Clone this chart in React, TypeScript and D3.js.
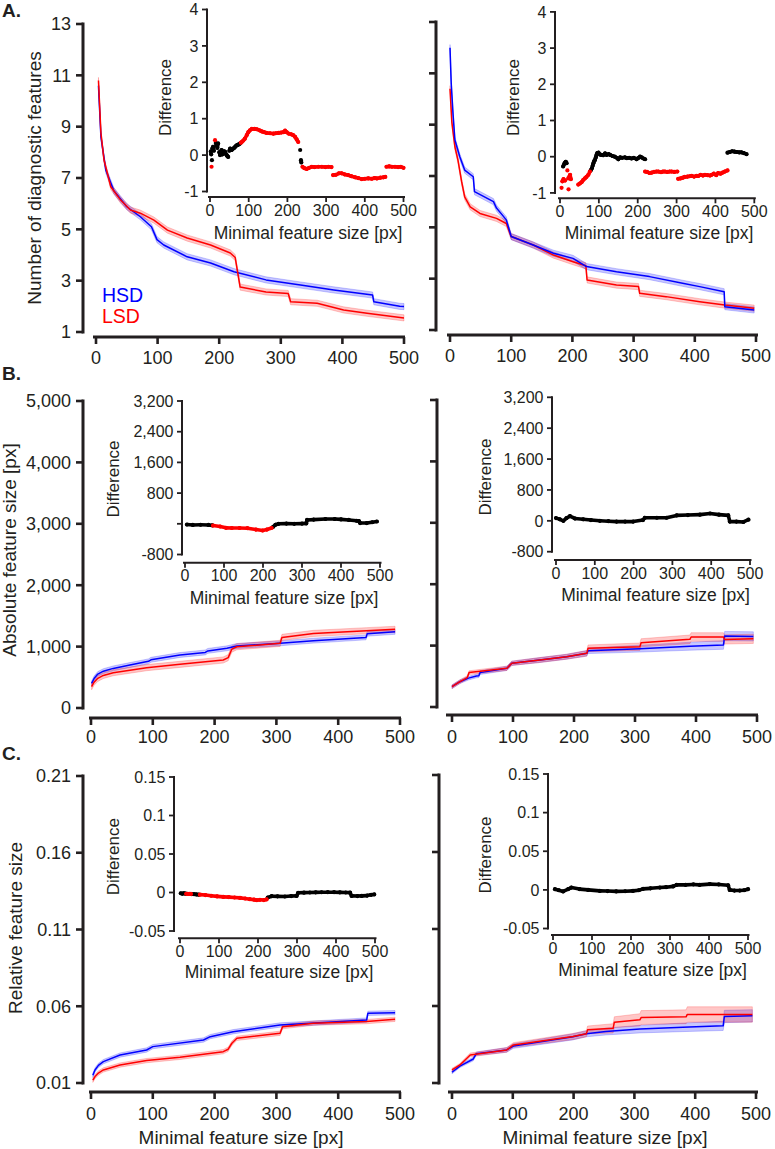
import React from 'react';
import * as d3 from 'd3';

const FONT = '"Liberation Sans", Arial, Helvetica, sans-serif';
const INK = '#231f20';
const BLUE = '#0000ff';
const RED = '#ff0000';

// ---------- shared ticks ----------
const X_TICKS = [0, 100, 200, 300, 400, 500];
const A_Y_TICKS = [1, 3, 5, 7, 9, 11, 13];
const B_Y_TICKS = [0, 1000, 2000, 3000, 4000, 5000];
const C_Y_TICKS = [0.01, 0.06, 0.11, 0.16, 0.21];
const A_INSET_Y_TICKS = [-1, 0, 1, 2, 3, 4];
const B_INSET_Y_TICKS = [-800, 0, 800, 1600, 2400, 3200];
const B_INSET_Y_LABELS_LEFT = ['-800', '', '800', '1,600', '2,400', '3,200'];
const B_INSET_Y_LABELS_RIGHT = ['-800', '0', '800', '1,600', '2,400', '3,200'];
const C_INSET_Y_TICKS = [-0.05, 0, 0.05, 0.1, 0.15];
const C_INSET_Y_LABELS = ['-0.05', '0', '0.05', '0.1', '0.15'];

// ---------- Panel A: number of diagnostic features ----------
const A_L_HSD_X = [4, 8, 16, 29, 50, 72, 90, 99, 110, 148, 186, 224, 276, 332, 386, 449, 451, 493, 500];
const A_L_HSD_Y = [10.6, 8.6, 7.3, 6.5, 5.88, 5.49, 5.1, 4.6, 4.39, 3.93, 3.69, 3.35, 3.03, 2.83, 2.64, 2.44, 2.18, 2.0, 1.99];
const A_L_LSD_X = [4, 8, 13, 24, 40, 56, 72, 94, 116, 148, 186, 218, 226, 234, 276, 312, 316, 359, 402, 440, 500];
const A_L_LSD_Y = [10.8, 8.75, 7.7, 6.66, 6.14, 5.75, 5.63, 5.36, 4.97, 4.66, 4.39, 4.08, 3.9, 2.75, 2.56, 2.5, 2.18, 2.12, 1.86, 1.73, 1.55];
const A_SE = 0.12;

const A_R_HSD_X = [0, 2, 5, 8, 16, 24, 38, 40, 71, 76, 92, 100, 136, 169, 201, 223, 272, 326, 380, 408, 448, 449, 497];
const A_R_HSD_Y = [12.0, 10.6, 9.4, 8.4, 7.75, 7.23, 6.97, 6.39, 6.0, 5.75, 5.29, 4.64, 4.31, 3.99, 3.79, 3.47, 3.27, 3.08, 2.82, 2.69, 2.49, 1.91, 1.78];
const A_R_LSD_X = [0, 3, 8, 13, 19, 24, 33, 49, 76, 92, 100, 136, 169, 201, 222, 224, 272, 308, 310, 353, 408, 449, 497];
const A_R_LSD_Y = [10.4, 9.1, 8.14, 7.62, 6.78, 6.19, 5.8, 5.54, 5.35, 5.15, 4.64, 4.31, 3.92, 3.66, 3.5, 2.95, 2.75, 2.69, 2.43, 2.3, 2.1, 1.97, 1.85];

// Panel A insets: difference (dots), black = n.s., red = significant
const A_L_DIFF_BLACK_X = [2, 3, 5, 6, 8, 10, 15, 17, 19, 21, 24, 26, 28, 30, 32, 34, 37, 39, 41, 43, 45, 47, 50, 52, 54, 56, 58, 60, 63, 65, 67, 69, 72, 75, 78, 233, 235, 236];
const A_L_DIFF_BLACK_Y = [0.10, 0.02, -0.14, 0.18, 0.23, 0.12, 0.33, 0.27, 0.20, 0.32, 0.08, 0.00, 0.10, 0.14, 0.02, 0.05, 0.10, 0.09, 0.03, 0.00, -0.03, -0.05, 0.12, 0.18, 0.15, 0.14, 0.17, 0.18, 0.20, 0.23, 0.25, 0.27, 0.28, 0.30, 0.32, 0.14, -0.14, -0.20];
const A_L_DIFF_RED_X = [4, 13, 80, 82, 86, 90, 95, 99, 103, 108, 115, 121, 128, 134, 140, 146, 155, 164, 170, 177, 184, 190, 194, 198, 203, 210, 215, 220, 224, 228, 239, 244, 250, 256, 263, 270, 280, 289, 298, 306, 314, 318, 325, 333, 340, 348, 357, 365, 375, 383, 392, 400, 409, 418, 425, 431, 440, 448, 453, 456, 463, 470, 478, 486, 493, 500];
const A_L_DIFF_RED_Y = [-0.32, 0.41, 0.34, 0.36, 0.40, 0.45, 0.55, 0.63, 0.68, 0.72, 0.72, 0.71, 0.68, 0.65, 0.63, 0.61, 0.60, 0.59, 0.60, 0.61, 0.62, 0.63, 0.67, 0.63, 0.59, 0.57, 0.55, 0.50, 0.43, 0.36, -0.32, -0.36, -0.38, -0.35, -0.32, -0.33, -0.32, -0.32, -0.33, -0.32, -0.33, -0.55, -0.54, -0.50, -0.50, -0.53, -0.55, -0.58, -0.61, -0.63, -0.66, -0.65, -0.64, -0.65, -0.63, -0.64, -0.62, -0.61, -0.60, -0.32, -0.31, -0.32, -0.32, -0.33, -0.32, -0.35];

const A_R_DIFF_BLACK_X = [8, 11, 13, 15, 17, 79, 82, 84, 86, 88, 90, 92, 94, 96, 99, 103, 107, 111, 116, 120, 125, 129, 135, 141, 146, 150, 155, 160, 167, 172, 178, 184, 190, 197, 201, 206, 210, 215, 219, 431, 437, 443, 449, 455, 461, 467, 473, 480];
const A_R_DIFF_BLACK_Y = [-0.27, -0.20, -0.16, -0.14, -0.18, -0.38, -0.32, -0.25, -0.18, -0.12, -0.09, -0.02, 0.05, 0.10, 0.11, 0.06, 0.05, 0.04, 0.09, 0.05, 0.07, 0.05, 0.02, 0.00, -0.03, -0.07, -0.02, -0.03, -0.02, -0.04, -0.03, -0.05, -0.03, -0.07, -0.04, 0.00, -0.02, -0.05, -0.07, 0.11, 0.13, 0.15, 0.14, 0.13, 0.12, 0.12, 0.10, 0.07];
const A_R_DIFF_RED_X = [4, 6, 9, 13, 19, 21, 22, 24, 26, 28, 47, 51, 56, 60, 64, 68, 73, 77, 219, 224, 230, 236, 242, 248, 253, 260, 265, 270, 276, 282, 287, 294, 302, 304, 310, 316, 321, 328, 334, 339, 345, 351, 356, 362, 368, 373, 380, 386, 390, 396, 402, 407, 413, 418, 424, 431];
const A_R_DIFF_RED_Y = [-0.86, -0.68, -0.62, -0.66, -0.38, -0.60, -0.90, -0.55, -0.50, -0.62, -0.77, -0.74, -0.70, -0.64, -0.60, -0.56, -0.50, -0.41, -0.41, -0.42, -0.45, -0.44, -0.42, -0.41, -0.41, -0.43, -0.41, -0.41, -0.42, -0.41, -0.41, -0.42, -0.41, -0.61, -0.60, -0.58, -0.56, -0.55, -0.54, -0.53, -0.55, -0.53, -0.53, -0.50, -0.52, -0.50, -0.51, -0.52, -0.50, -0.47, -0.51, -0.45, -0.47, -0.44, -0.41, -0.38];

// ---------- Panel B: absolute feature size ----------
const B_L_HSD_X = [1, 5, 11, 20, 36, 63, 93, 97, 144, 185, 189, 220, 236, 306, 360, 445, 447, 492];
const B_L_HSD_Y = [400, 480, 553, 600, 645, 700, 760, 785, 863, 905, 930, 972, 1010, 1053, 1097, 1150, 1210, 1240];
const B_L_LSD_X = [1, 5, 11, 20, 36, 90, 144, 214, 222, 228, 236, 306, 309, 360, 446, 492];
const B_L_LSD_Y = [347, 420, 483, 530, 575, 657, 711, 782, 820, 960, 998, 1053, 1150, 1215, 1259, 1281];
const B_L_HSD_SE = 40;
const B_L_LSD_SE = 50;

const B_R_HSD_X = [0, 13, 27, 40, 44, 46, 90, 98, 144, 188, 221, 223, 308, 390, 445, 447, 494];
const B_R_HSD_Y = [330, 412, 470, 505, 510, 560, 630, 712, 765, 819, 874, 915, 950, 990, 1010, 1156, 1150];
const B_R_HSD_SE = [30, 30, 30, 30, 30, 30, 35, 35, 40, 40, 45, 45, 55, 65, 70, 75, 75];
const B_R_LSD_X = [0, 13, 25, 28, 90, 98, 144, 188, 221, 223, 308, 310, 390, 392, 445, 447, 494];
const B_R_LSD_Y = [330, 412, 480, 560, 630, 712, 765, 819, 874, 956, 982, 1047, 1102, 1140, 1140, 1100, 1110];
const B_R_LSD_SE = [30, 30, 30, 30, 35, 35, 40, 40, 45, 55, 60, 65, 70, 70, 70, 75, 75];

const B_L_DIFF_BLACK_X = [5, 20, 40, 60, 70, 226, 232, 240, 260, 280, 300, 311, 313, 330, 360, 384, 400, 420, 440, 446, 449, 466, 480, 492];
const B_L_DIFF_BLACK_Y = [-20, -30, -25, -30, -40, -80, -25, 0, 5, 0, 5, 10, 100, 110, 125, 125, 115, 100, 80, 70, 20, 20, 40, 60];
const B_L_DIFF_RED_X = [72, 90, 105, 120, 140, 160, 182, 199, 210, 222];
const B_L_DIFF_RED_Y = [-45, -70, -105, -110, -110, -115, -150, -175, -150, -110];

const B_R_DIFF_BLACK_X = [0, 10, 19, 27, 36, 49, 70, 90, 113, 135, 156, 178, 199, 224, 229, 260, 285, 311, 340, 371, 397, 420, 444, 448, 465, 483, 496];
const B_R_DIFF_BLACK_Y = [70, 40, 0, 70, 120, 60, 40, 20, 0, -10, -20, -20, -20, 20, 80, 80, 80, 140, 150, 160, 190, 160, 140, -20, -20, -30, 30];

// ---------- Panel C: relative feature size ----------
const C_L_HSD_X = [3, 6.5, 12, 20, 47, 90, 100, 182, 193, 230, 306, 446, 448, 492];
const C_L_HSD_Y = [0.015, 0.0185, 0.0215, 0.0239, 0.0282, 0.0315, 0.0337, 0.038, 0.0402, 0.0434, 0.0478, 0.051, 0.0554, 0.0558];
const C_L_LSD_X = [3, 6.5, 12, 20, 47, 90, 144, 214, 222, 228, 236, 306, 310, 360, 446, 492];
const C_L_LSD_Y = [0.0118, 0.0142, 0.0165, 0.0185, 0.0217, 0.0246, 0.0267, 0.0304, 0.032, 0.0359, 0.0391, 0.0424, 0.0467, 0.049, 0.05, 0.0515];
const C_L_SE = 0.0014;

const C_R_HSD_X = [0, 13, 35, 40, 90, 101, 199, 221, 253, 309, 390, 446, 448, 494];
const C_R_HSD_Y = [0.017, 0.021, 0.0256, 0.029, 0.0315, 0.034, 0.040, 0.042, 0.0434, 0.045, 0.0463, 0.0471, 0.0532, 0.0536];
const C_R_HSD_SE = [0.001, 0.001, 0.0012, 0.0012, 0.0015, 0.0015, 0.002, 0.002, 0.0022, 0.0025, 0.0028, 0.003, 0.004, 0.004];
const C_R_LSD_X = [0, 13, 30, 90, 101, 199, 221, 223, 265, 267, 309, 311, 385, 387, 494];
const C_R_LSD_Y = [0.0185, 0.0217, 0.0282, 0.0315, 0.0347, 0.0402, 0.042, 0.0445, 0.0455, 0.0495, 0.051, 0.0525, 0.053, 0.0545, 0.0545];
const C_R_LSD_SE = [0.001, 0.001, 0.0012, 0.0015, 0.0015, 0.002, 0.002, 0.0025, 0.003, 0.0035, 0.004, 0.0045, 0.0045, 0.005, 0.005];

const C_L_DIFF_BLACK_X = [2, 6, 10, 14, 30, 36, 42, 48, 225, 235, 250, 269, 285, 299, 303, 318, 333, 348, 363, 379, 395, 410, 425, 436, 440, 455, 466, 480, 490, 498];
const C_L_DIFF_BLACK_Y = [-0.001, -0.0015, -0.001, -0.0015, -0.002, -0.0022, -0.0025, -0.0028, -0.0065, -0.0048, -0.005, -0.0052, -0.0046, -0.0044, -0.0004, -0.0002, 0, 0.0002, 0.0003, 0.0004, 0.0004, 0.0002, 0, -0.0002, -0.0044, -0.0046, -0.0044, -0.004, -0.003, -0.0025];
const C_L_DIFF_RED_X = [16, 20, 24, 28, 51, 65, 80, 95, 111, 125, 140, 154, 167, 179, 190, 197, 205, 215, 222];
const C_L_DIFF_RED_Y = [-0.0016, -0.0018, -0.0017, -0.0019, -0.0028, -0.0033, -0.0042, -0.005, -0.0057, -0.006, -0.0065, -0.007, -0.0078, -0.0087, -0.0093, -0.01, -0.0095, -0.0098, -0.009];

const C_R_DIFF_BLACK_X = [5, 15, 26, 39, 47, 68, 90, 120, 140, 162, 185, 205, 220, 231, 250, 274, 290, 308, 317, 340, 360, 376, 402, 425, 449, 453, 465, 479, 490, 500];
const C_R_DIFF_BLACK_Y = [0.0009, -0.0005, -0.002, 0.001, 0.003, 0.001, 0, -0.0013, -0.0015, -0.002, -0.0018, -0.0013, -0.0005, 0.0013, 0.002, 0.003, 0.0035, 0.0045, 0.0065, 0.0065, 0.007, 0.0065, 0.0075, 0.007, 0.006, 0, -0.0009, -0.0009, -0.0005, 0.0009];

// ---------- helpers ----------
type Series = { x: number[]; y: number[]; se: number | number[]; color: string };

const zip = (xs: number[], ys: number[]) => xs.map((x, i) => ({ x, y: ys[i], i }));

function MainPanel(props: {
  xRange: [number, number];
  yDomain: [number, number];
  yRange: [number, number];
  yTicks: number[];
  yLabels?: string[] | null;
  yAxisX: number;
  xAxisY: number;
  xLine: [number, number];
  series: Series[];
  xLabelOffset?: number;
}) {
  const { xRange, yDomain, yRange, yTicks, yLabels, yAxisX, xAxisY, xLine, series } = props;
  const xs = d3.scaleLinear().domain([0, 500]).range(xRange);
  const ys = d3.scaleLinear().domain(yDomain).range(yRange);
  const line = d3.line<{ x: number; y: number }>().x((d) => xs(d.x)).y((d) => ys(d.y));
  const seAt = (s: Series, i: number) => (Array.isArray(s.se) ? s.se[i] : s.se);
  const xOff = props.xLabelOffset ?? 26;
  return (
    <g>
      {series.map((s, k) => {
        const pts = zip(s.x, s.y);
        const area = d3
          .area<{ x: number; y: number; i: number }>()
          .x((d) => xs(d.x))
          .y0((d) => ys(d.y - seAt(s, d.i)))
          .y1((d) => ys(d.y + seAt(s, d.i)));
        return (
          <path key={'b' + k} d={area(pts) || ''} fill={s.color} fillOpacity={0.22} stroke={s.color} strokeOpacity={0.25} strokeWidth={0.8} />
        );
      })}
      {series.map((s, k) => (
        <path key={'l' + k} d={line(zip(s.x, s.y)) || ''} fill="none" stroke={s.color} strokeWidth={1.5} strokeLinejoin="round" />
      ))}
      {/* y axis */}
      <line x1={yAxisX} x2={yAxisX} y1={ys(yDomain[0]) + 1.5} y2={ys(yDomain[1]) - 1.5} stroke={INK} strokeWidth={3} />
      {yTicks.map((t, i) => (
        <g key={'yt' + i}>
          <line x1={yAxisX - 7} x2={yAxisX} y1={ys(t)} y2={ys(t)} stroke={INK} strokeWidth={2.6} />
          {yLabels ? (
            <text x={yAxisX - 12} y={ys(t)} dy="0.36em" textAnchor="end" fontSize={18} fill={INK} fontFamily={FONT}>
              {yLabels[i]}
            </text>
          ) : null}
        </g>
      ))}
      {/* x axis */}
      <line x1={xLine[0]} x2={xLine[1]} y1={xAxisY} y2={xAxisY} stroke={INK} strokeWidth={3} />
      {X_TICKS.map((t, i) => (
        <g key={'xt' + i}>
          <line x1={xs(t)} x2={xs(t)} y1={xAxisY} y2={xAxisY + 7} stroke={INK} strokeWidth={2.6} />
          <text x={xs(t)} y={xAxisY + xOff} textAnchor="middle" fontSize={18} fill={INK} fontFamily={FONT}>
            {String(t)}
          </text>
        </g>
      ))}
    </g>
  );
}

function Inset(props: {
  xRange: [number, number];
  yDomain: [number, number];
  yRange: [number, number];
  yTicks: number[];
  yLabels: string[];
  axisX: number;
  axisY: number;
  black: { x: number[]; y: number[] };
  red?: { x: number[]; y: number[] };
  joinDx: number;
  joinDy: number;
  xLabel: [number, number];
  yLabel: [number, number];
}) {
  const { xRange, yDomain, yRange, yTicks, yLabels, axisX, axisY, black, red, joinDx, joinDy } = props;
  const xs = d3.scaleLinear().domain([0, 500]).range(xRange);
  const ys = d3.scaleLinear().domain(yDomain).range(yRange);
  const drawGroup = (g: { x: number[]; y: number[] }, color: string, key: string) => {
    const pts = zip(g.x, g.y);
    const segs: JSX.Element[] = [];
    for (let i = 1; i < pts.length; i++) {
      const a = pts[i - 1];
      const b = pts[i];
      if (Math.abs(b.x - a.x) <= joinDx && Math.abs(ys(b.y) - ys(a.y)) <= joinDy) {
        segs.push(
          <line key={key + 's' + i} x1={xs(a.x)} y1={ys(a.y)} x2={xs(b.x)} y2={ys(b.y)} stroke={color} strokeWidth={3.6} strokeLinecap="round" />
        );
      }
    }
    return (
      <g key={key}>
        {segs}
        {pts.map((p, i) => (
          <circle key={key + 'c' + i} cx={xs(p.x)} cy={ys(p.y)} r={2.1} fill={color} />
        ))}
      </g>
    );
  };
  return (
    <g>
      {drawGroup(black, '#000000', 'k')}
      {red ? drawGroup(red, RED, 'r') : null}
      <line x1={axisX} x2={axisX} y1={ys(yDomain[0]) + 1} y2={ys(yDomain[1]) - 1} stroke={INK} strokeWidth={2} />
      {yTicks.map((t, i) => (
        <g key={'yt' + i}>
          <line x1={axisX - 5} x2={axisX} y1={ys(t)} y2={ys(t)} stroke={INK} strokeWidth={1.8} />
          <text x={axisX - 8.5} y={ys(t)} dy="0.36em" textAnchor="end" fontSize={16} fill={INK} fontFamily={FONT}>
            {yLabels[i]}
          </text>
        </g>
      ))}
      <line x1={xs(0) - 2} x2={xs(500) + 1.5} y1={axisY} y2={axisY} stroke={INK} strokeWidth={2} />
      {X_TICKS.map((t, i) => (
        <g key={'xt' + i}>
          <line x1={xs(t)} x2={xs(t)} y1={axisY} y2={axisY + 5} stroke={INK} strokeWidth={1.8} />
          <text x={xs(t)} y={axisY + 18.5} textAnchor="middle" fontSize={16} fill={INK} fontFamily={FONT}>
            {String(t)}
          </text>
        </g>
      ))}
      <text x={props.xLabel[0]} y={props.xLabel[1]} textAnchor="middle" fontSize={17.5} fill={INK} fontFamily={FONT}>
        Minimal feature size [px]
      </text>
      <text
        transform={`translate(${props.yLabel[0]},${props.yLabel[1]}) rotate(-90)`}
        textAnchor="middle"
        fontSize={17}
        fill={INK}
        fontFamily={FONT}
      >
        Difference
      </text>
    </g>
  );
}

const fmtComma = d3.format(',');

export default function App() {
  const aLabels = A_Y_TICKS.map(String);
  const bLabels = B_Y_TICKS.map((v) => fmtComma(v));
  const cLabels = C_Y_TICKS.map((v) => String(v));
  const aInsetLabels = A_INSET_Y_TICKS.map(String);
  return (
    <svg width={775} height={1149} style={{ position: 'absolute', left: 0, top: 0, background: '#fff' }} fontFamily={FONT}>
      <rect x={0} y={0} width={775} height={1149} fill="#ffffff" />

      {/* panel letters */}
      <text x={2} y={17} fontSize={19} fontWeight="bold" fill={INK}>A.</text>
      <text x={2} y={380} fontSize={19} fontWeight="bold" fill={INK}>B.</text>
      <text x={2} y={760} fontSize={19} fontWeight="bold" fill={INK}>C.</text>

      {/* ---------- A ---------- */}
      <MainPanel
        xRange={[96, 404]}
        yDomain={[1, 13]}
        yRange={[332, 24]}
        yTicks={A_Y_TICKS}
        yLabels={aLabels}
        yAxisX={83}
        xAxisY={337}
        xLine={[93, 405]}
        xLabelOffset={27}
        series={[
          { x: A_L_HSD_X, y: A_L_HSD_Y, se: A_SE, color: BLUE },
          { x: A_L_LSD_X, y: A_L_LSD_Y, se: A_SE, color: RED },
        ]}
      />
      <MainPanel
        xRange={[450, 756]}
        yDomain={[1, 13]}
        yRange={[330, 22]}
        yTicks={A_Y_TICKS}
        yLabels={null}
        yAxisX={436}
        xAxisY={335}
        xLine={[447, 758]}
        xLabelOffset={27}
        series={[
          { x: A_R_LSD_X, y: A_R_LSD_Y, se: A_SE, color: RED },
          { x: A_R_HSD_X, y: A_R_HSD_Y, se: A_SE, color: BLUE },
        ]}
      />
      <text transform="translate(41,178) rotate(-90)" textAnchor="middle" fontSize={19} fill={INK}>
        Number of diagnostic features
      </text>
      <text x={102} y={302} fontSize={19.5} fill={BLUE}>HSD</text>
      <text x={102} y={323} fontSize={19.5} fill={RED}>LSD</text>

      <Inset
        xRange={[210, 403.5]}
        yDomain={[-1, 4]}
        yRange={[191.5, 9.5]}
        yTicks={A_INSET_Y_TICKS}
        yLabels={aInsetLabels}
        axisX={207}
        axisY={197}
        black={{ x: A_L_DIFF_BLACK_X, y: A_L_DIFF_BLACK_Y }}
        red={{ x: A_L_DIFF_RED_X, y: A_L_DIFF_RED_Y }}
        joinDx={12}
        joinDy={5.5}
        xLabel={[308, 239]}
        yLabel={[171, 97.5]}
      />
      <Inset
        xRange={[560, 754.3]}
        yDomain={[-1, 4]}
        yRange={[192.9, 11.9]}
        yTicks={A_INSET_Y_TICKS}
        yLabels={aInsetLabels}
        axisX={555}
        axisY={198.3}
        black={{ x: A_R_DIFF_BLACK_X, y: A_R_DIFF_BLACK_Y }}
        red={{ x: A_R_DIFF_RED_X, y: A_R_DIFF_RED_Y }}
        joinDx={12}
        joinDy={5.5}
        xLabel={[659, 239]}
        yLabel={[519, 97.5]}
      />

      {/* ---------- B ---------- */}
      <MainPanel
        xRange={[91, 400]}
        yDomain={[0, 5000]}
        yRange={[708, 401]}
        yTicks={B_Y_TICKS}
        yLabels={bLabels}
        yAxisX={83}
        xAxisY={718}
        xLine={[89, 401]}
        xLabelOffset={25}
        series={[
          { x: B_L_HSD_X, y: B_L_HSD_Y, se: B_L_HSD_SE, color: BLUE },
          { x: B_L_LSD_X, y: B_L_LSD_Y, se: B_L_LSD_SE, color: RED },
        ]}
      />
      <MainPanel
        xRange={[452, 757]}
        yDomain={[0, 5000]}
        yRange={[707, 400]}
        yTicks={B_Y_TICKS}
        yLabels={null}
        yAxisX={437}
        xAxisY={715}
        xLine={[446, 758]}
        xLabelOffset={28}
        series={[
          { x: B_R_HSD_X, y: B_R_HSD_Y, se: B_R_HSD_SE, color: BLUE },
          { x: B_R_LSD_X, y: B_R_LSD_Y, se: B_R_LSD_SE, color: RED },
        ]}
      />
      <text transform="translate(16,550) rotate(-90)" textAnchor="middle" fontSize={19} fill={INK}>
        Absolute feature size [px]
      </text>
      <Inset
        xRange={[185, 380]}
        yDomain={[-800, 3200]}
        yRange={[554.5, 401]}
        yTicks={B_INSET_Y_TICKS}
        yLabels={B_INSET_Y_LABELS_LEFT}
        axisX={182}
        axisY={562.7}
        black={{ x: B_L_DIFF_BLACK_X, y: B_L_DIFF_BLACK_Y }}
        red={{ x: B_L_DIFF_RED_X, y: B_L_DIFF_RED_Y }}
        joinDx={40}
        joinDy={8}
        xLabel={[284, 604]}
        yLabel={[119, 479]}
      />
      <Inset
        xRange={[556, 750]}
        yDomain={[-800, 3200]}
        yRange={[551.7, 397.3]}
        yTicks={B_INSET_Y_TICKS}
        yLabels={B_INSET_Y_LABELS_RIGHT}
        axisX={552}
        axisY={560}
        black={{ x: B_R_DIFF_BLACK_X, y: B_R_DIFF_BLACK_Y }}
        joinDx={45}
        joinDy={8}
        xLabel={[655.5, 601]}
        yLabel={[491, 477]}
      />

      {/* ---------- C ---------- */}
      <MainPanel
        xRange={[91, 400]}
        yDomain={[0.01, 0.21]}
        yRange={[1083, 776]}
        yTicks={C_Y_TICKS}
        yLabels={cLabels}
        yAxisX={83}
        xAxisY={1092}
        xLine={[89, 401]}
        xLabelOffset={28}
        series={[
          { x: C_L_HSD_X, y: C_L_HSD_Y, se: C_L_SE, color: BLUE },
          { x: C_L_LSD_X, y: C_L_LSD_Y, se: C_L_SE, color: RED },
        ]}
      />
      <MainPanel
        xRange={[452, 756]}
        yDomain={[0.01, 0.21]}
        yRange={[1083, 775]}
        yTicks={C_Y_TICKS}
        yLabels={null}
        yAxisX={439}
        xAxisY={1092}
        xLine={[448, 758]}
        xLabelOffset={28}
        series={[
          { x: C_R_HSD_X, y: C_R_HSD_Y, se: C_R_HSD_SE, color: BLUE },
          { x: C_R_LSD_X, y: C_R_LSD_Y, se: C_R_LSD_SE, color: RED },
        ]}
      />
      <text transform="translate(22,928) rotate(-90)" textAnchor="middle" fontSize={19} fill={INK}>
        Relative feature size
      </text>
      <text x={241} y={1144} textAnchor="middle" fontSize={19} fill={INK}>Minimal feature size [px]</text>
      <text x={605} y={1144} textAnchor="middle" fontSize={19} fill={INK}>Minimal feature size [px]</text>
      <Inset
        xRange={[180, 375]}
        yDomain={[-0.05, 0.15]}
        yRange={[931, 777]}
        yTicks={C_INSET_Y_TICKS}
        yLabels={C_INSET_Y_LABELS}
        axisX={174}
        axisY={938.3}
        black={{ x: C_L_DIFF_BLACK_X, y: C_L_DIFF_BLACK_Y }}
        red={{ x: C_L_DIFF_RED_X, y: C_L_DIFF_RED_Y }}
        joinDx={22}
        joinDy={8}
        xLabel={[279, 977.5]}
        yLabel={[119, 856.7]}
      />
      <Inset
        xRange={[553, 748]}
        yDomain={[-0.05, 0.15]}
        yRange={[928.5, 774]}
        yTicks={C_INSET_Y_TICKS}
        yLabels={C_INSET_Y_LABELS}
        axisX={548}
        axisY={935}
        black={{ x: C_R_DIFF_BLACK_X, y: C_R_DIFF_BLACK_Y }}
        joinDx={32}
        joinDy={8}
        xLabel={[652.5, 976]}
        yLabel={[491, 855]}
      />
    </svg>
  );
}
